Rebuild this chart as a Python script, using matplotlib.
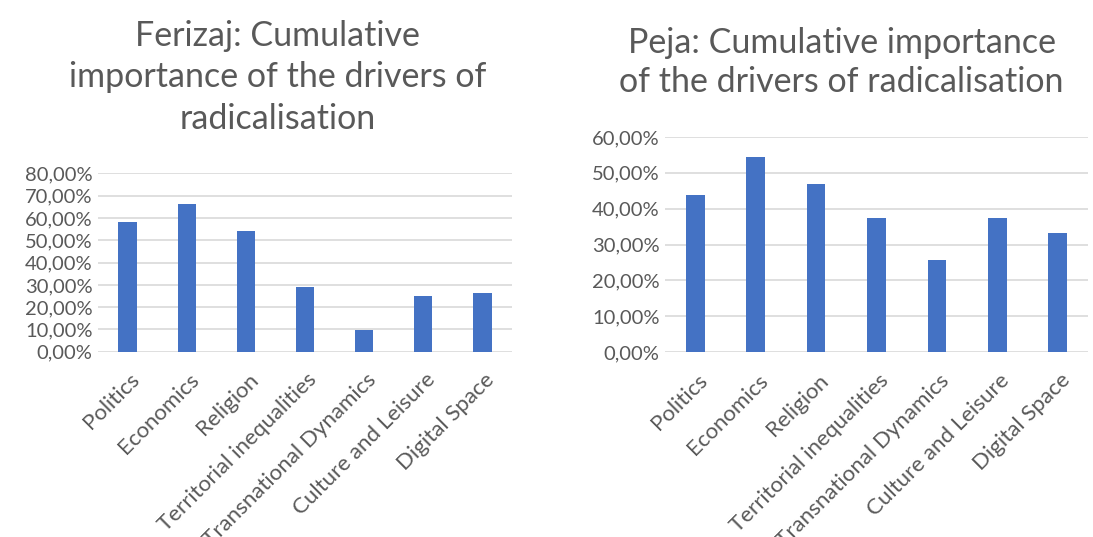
import matplotlib
matplotlib.use("Agg")
import matplotlib.pyplot as plt
from matplotlib.ticker import FuncFormatter, MultipleLocator
from matplotlib.transforms import ScaledTranslation

drivers = ["Politics", "Economics", "Religion", "Territorial inequalities",
           "Transnational Dynamics", "Culture and Leisure", "Digital Space"]
ferizaj = [0.583, 0.665, 0.540, 0.290, 0.097, 0.250, 0.263]
peja = [0.438, 0.543, 0.468, 0.375, 0.256, 0.375, 0.331]

bar_color = "#4472c4"
text_color = "#595959"
grid_color = "#d9d9d9"
plt.rcParams["font.family"] = ["Lato", "DejaVu Sans"]


def pct(v, pos):
    return f"{v * 100:.2f}%".replace(".", ",")


def draw(ax, values, ymax):
    x = range(len(drivers))
    ax.bar(x, values, width=0.31, color=bar_color, zorder=3)
    ax.set_xlim(-0.5, len(drivers) - 0.5)
    ax.set_ylim(0, ymax)
    ax.yaxis.set_major_locator(MultipleLocator(0.1))
    ax.yaxis.set_major_formatter(FuncFormatter(pct))
    ax.grid(axis="y", color=grid_color, linewidth=1.2, zorder=0)
    for s in ax.spines.values():
        s.set_visible(False)
    ax.tick_params(axis="y", length=0, labelsize=14.5, colors=text_color, pad=4)
    ax.tick_params(axis="x", length=0, pad=18)
    ax.set_xticks(list(x))
    labels = ax.set_xticklabels(drivers, rotation=45, ha="right", va="center",
                                rotation_mode="anchor", fontsize=16,
                                color=text_color)
    # nudge the rotated labels a little to the right of each bar
    shift = ScaledTranslation(9 / 100, 0, fig.dpi_scale_trans)
    for lab in labels:
        lab.set_transform(lab.get_transform() + shift)


fig = plt.figure(figsize=(10.93, 5.37), dpi=100)

ax1 = fig.add_axes([0.0897, 0.345, 0.3787, 0.332])
draw(ax1, ferizaj, 0.8)
ax2 = fig.add_axes([0.6084, 0.344, 0.387, 0.401])
draw(ax2, peja, 0.6)

fig.text(0.254, 1 - 129 / 537,
         "Ferizaj: Cumulative\nimportance of the drivers of\nradicalisation",
         ha="center", va="baseline", fontsize=24.5, color=text_color,
         linespacing=1.37)
fig.text(0.770, 1 - 92 / 537,
         "Peja: Cumulative importance\nof the drivers of radicalisation",
         ha="center", va="baseline", fontsize=24.5, color=text_color,
         linespacing=1.28)

fig.savefig("out.png", dpi=100, facecolor="white")
